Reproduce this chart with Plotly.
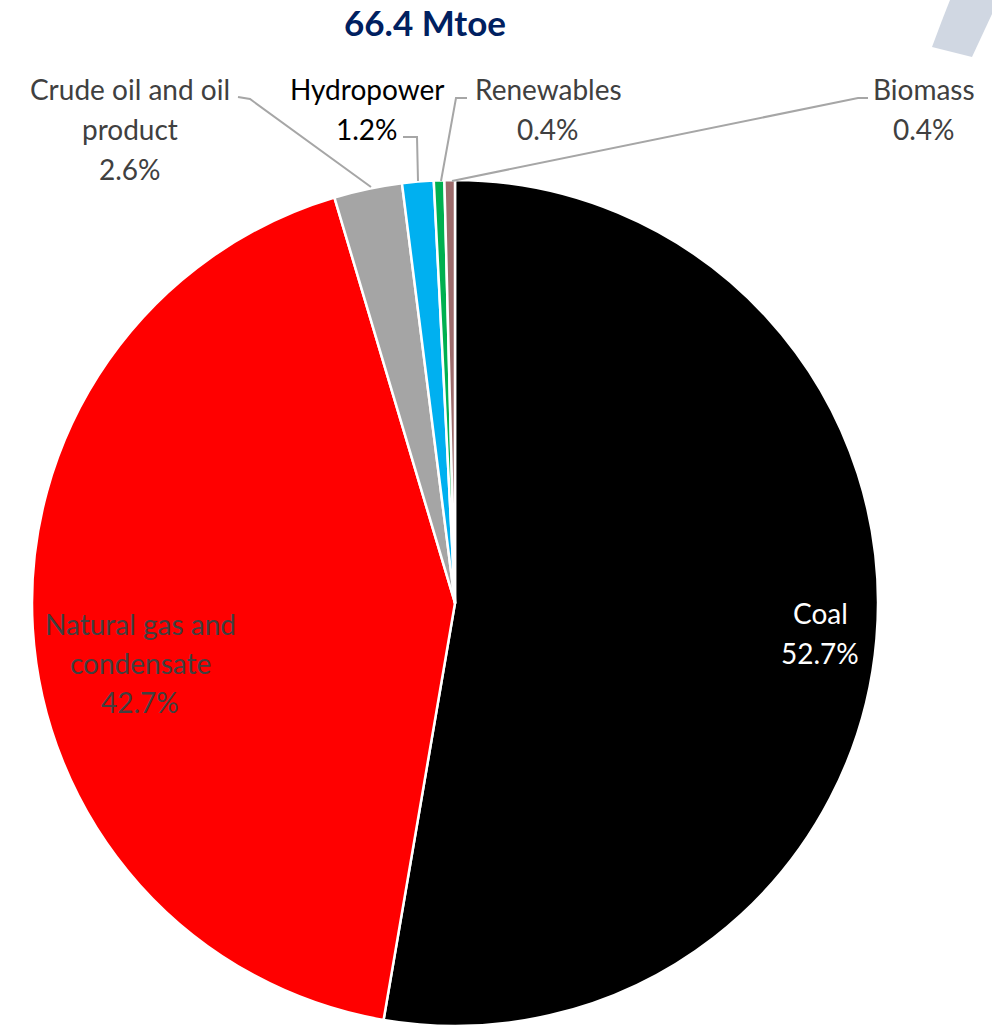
import plotly.graph_objects as go

# Primary energy supply shares
categories = ["Coal", "Natural gas and condensate", "Crude oil and oil product",
              "Hydropower", "Renewables", "Biomass"]
shares = [52.7, 42.7, 2.6, 1.2, 0.4, 0.4]
colors = ["#000000", "#FF0000", "#A5A5A5", "#00B0F0", "#00B050", "#9C6B6B"]
total_label = "66.4 Mtoe"

W, H = 992, 1026
FONT = "Lato"

fig = go.Figure()
fig.add_trace(go.Pie(
    labels=categories,
    values=shares,
    sort=False,
    direction="clockwise",
    rotation=0,
    marker=dict(colors=colors, line=dict(color="white", width=2.5)),
    textinfo="none",
    hoverinfo="label+percent",
    showlegend=False,
    domain=dict(x=[32 / W, 878 / W], y=[0, 846 / H]),
))

def pct(v):
    return f"{v:.1f}%"

# label lines: (text lines, center x, first-line y, line gap, color)
label_specs = [
    (["Crude oil and oil", "product", pct(shares[2])], 130, 89, 40, "#404040"),
    (["Hydropower", pct(shares[3])], 367, 89, 40, "#000000"),
    (["Renewables", pct(shares[4])], 548, 89, 40, "#404040"),
    (["Biomass", pct(shares[5])], 924, 89, 40, "#404040"),
    (["Coal", pct(shares[0])], 820, 613, 40, "#FFFFFF"),
    (["Natural gas and", "condensate", pct(shares[1])], 140, 624, 39, "#404040"),
]

annotations = []
for lines, cx, y0, gap, col in label_specs:
    for i, t in enumerate(lines):
        annotations.append(dict(
            x=cx, y=y0 + i * gap, xref="x", yref="y", text=t, showarrow=False,
            xanchor="center", yanchor="middle",
            font=dict(family=FONT, size=28, color=col),
        ))

annotations.append(dict(
    x=425, y=22, xref="x", yref="y", text=f"<b>{total_label}</b>", showarrow=False,
    xanchor="center", yanchor="middle",
    font=dict(family=FONT, size=35, color="#002060"),
))

leader = dict(color="#A6A6A6", width=2)
shapes = [
    # decorative corner band
    dict(type="path", xref="x", yref="y", layer="below",
         path="M 950 0 L 992 0 L 992 14 L 972 57 L 932 47 Q 942 20 950 0 Z",
         fillcolor="#D0D7E2", line=dict(width=0)),
    # leader lines
    dict(type="path", xref="x", yref="y", line=leader,
         path="M 238 97 L 250 99 L 371 187"),
    dict(type="path", xref="x", yref="y", line=leader,
         path="M 403 137 L 417 137 L 418 181"),
    dict(type="path", xref="x", yref="y", line=leader,
         path="M 467 98 L 456 98 L 441 181"),
    dict(type="path", xref="x", yref="y", line=leader,
         path="M 868 98 L 858 98 L 452 181"),
]

fig.update_layout(
    width=W, height=H,
    margin=dict(l=0, r=0, t=0, b=0),
    paper_bgcolor="white", plot_bgcolor="rgba(0,0,0,0)",
    xaxis=dict(range=[0, W], visible=False, fixedrange=True),
    yaxis=dict(range=[H, 0], visible=False, fixedrange=True),
    annotations=annotations,
    shapes=shapes,
)

fig.write_html("out.html")
